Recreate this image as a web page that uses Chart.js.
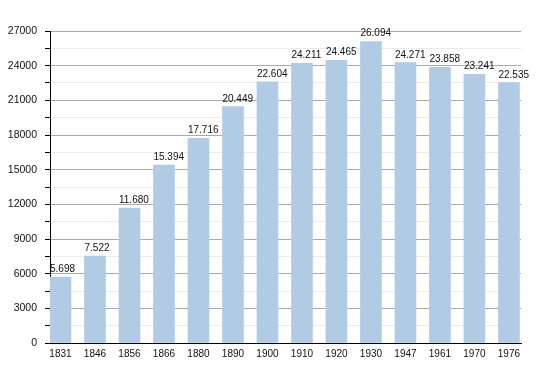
<!DOCTYPE html>
<html>
<head>
<meta charset="utf-8">
<script src="https://cdn.jsdelivr.net/npm/chart.js@4"></script>
<style>
  html, body { margin: 0; padding: 0; background: #fff; }
  canvas { display: block; }
</style>
</head>
<body>
<canvas id="popChart" width="550" height="373"></canvas>
<script>
// Census years and population
const years = ['1831', '1846', '1856', '1866', '1880', '1890', '1900', '1910', '1920', '1930', '1947', '1961', '1970', '1976'];
const population = [5698, 7522, 11680, 15394, 17716, 20449, 22604, 24211, 24465, 26094, 24271, 23858, 23241, 22535];
const yMax = 27000;
const yMajor = 3000;
const yMinor = 1500;

const fmt = v => String(v).replace(/\B(?=(\d{3})+(?!\d))/g, '.');

// value labels above each bar, left edge aligned with the bar
const barLabels = {
    id: 'barLabels',
    afterDatasetsDraw(chart) {
        const c = chart.ctx;
        const meta = chart.getDatasetMeta(0);
        c.save();
        c.font = '10px "Liberation Sans", Arial, sans-serif';
        c.fillStyle = '#111';
        c.textAlign = 'left';
        c.textBaseline = 'alphabetic';
        meta.data.forEach((bar, i) => {
            c.fillText(fmt(population[i]), bar.x - bar.width / 2, bar.y - 5);
        });
        c.restore();
    }
};

const ctx = document.getElementById('popChart').getContext('2d');
const popChart = new Chart(ctx, {
    type: 'bar',
    data: {
        datasets: [{
            data: population.map((v, i) => ({ x: i, y: v })),
            backgroundColor: '#b2cbe5',
            borderWidth: 0,
            barThickness: 21
        }]
    },
    options: {
        responsive: false,
        animation: false,
        devicePixelRatio: 1,
        layout: { padding: { top: 31, right: 29, left: 0, bottom: 0 } },
        plugins: {
            legend: { display: false },
            tooltip: { enabled: false }
        },
        scales: {
            x: {
                type: 'linear',
                offset: false,
                min: -0.304,
                max: 13.35,
                afterFit: s => { s.height = 30; },
                grid: { display: false, drawTicks: false },
                border: { display: true, color: '#000', width: 1 },
                ticks: {
                    stepSize: 1,
                    includeBounds: false,
                    autoSkip: false,
                    maxRotation: 0,
                    padding: 5,
                    color: '#111',
                    font: { family: '"Liberation Sans", Arial, sans-serif', size: 10 },
                    callback: v => years[v]
                }
            },
            y: {
                min: 0,
                max: yMax,
                afterFit: s => { s.width = 50; },
                grid: {
                    color: c => (c.tick && c.tick.value % yMajor === 0) ? '#ababab' : '#ebebeb',
                    tickColor: '#000',
                    tickLength: 5
                },
                border: { display: true, color: '#000', width: 1 },
                ticks: {
                    stepSize: yMinor,
                    padding: 8,
                    color: '#111',
                    font: { family: '"Liberation Sans", Arial, sans-serif', size: 10.5 },
                    callback: v => (v % yMajor === 0 ? String(v) : '')
                }
            }
        }
    },
    plugins: [barLabels]
});
</script>
</body>
</html>
